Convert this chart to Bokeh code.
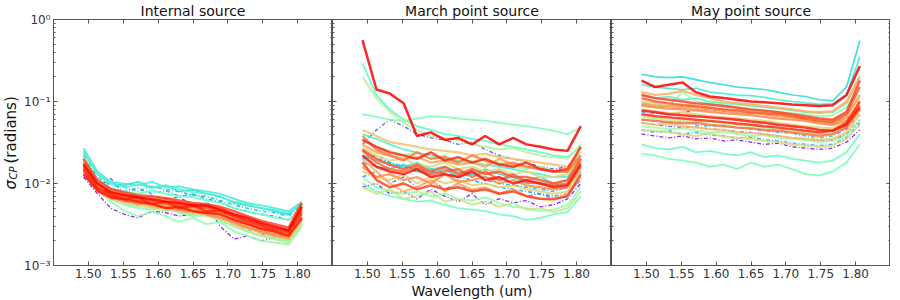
import math
from bokeh.plotting import figure
from bokeh.layouts import row
from bokeh.models import (LogAxis, LinearAxis, FixedTicker, PrintfTickFormatter,
                          CustomJSTickFormatter, Label, Range1d)
from bokeh.embed import file_html
from bokeh.resources import INLINE

# ---------------- data (sigma_CP in milliradians) ----------------
wavelength_um = [1.493, 1.513, 1.532, 1.552, 1.571, 1.591, 1.611, 1.630, 1.650,
                 1.669, 1.689, 1.709, 1.728, 1.748, 1.767, 1.787, 1.806]
panel_titles = ["Internal source", "March point source", "May point source"]
x_tick_values = [1.50, 1.55, 1.60, 1.65, 1.70, 1.75, 1.80]
y_tick_values = [0.001, 0.01, 0.1, 1.0]

# Internal source
int_00 = [12, 7.5, 5.0, 4.2, 3.8, 4.6, 4.4, 4.0, 4.2, 5.5, 3.0, 2.1, 2.3, 2.0, 2.2, 2.4, 3.5]
int_01 = [14, 9.0, 11.5, 7.5, 6.5, 7.0, 6.5, 6.8, 5.5, 5.8, 4.8, 3.6, 3.2, 2.4, 2.3, 2.6, 4.0]
int_02 = [16, 9.5, 7.0, 6.0, 6.8, 5.8, 6.2, 5.0, 5.4, 4.6, 4.2, 3.4, 2.6, 2.8, 2.2, 2.5, 3.8]
int_03 = [20, 11, 8.5, 8.0, 8.8, 7.5, 8.2, 7.0, 7.4, 6.5, 6.0, 5.0, 4.6, 4.2, 4.0, 3.6, 5.2]
int_04 = [22, 12, 9.5, 9.0, 8.0, 9.2, 8.5, 8.0, 7.2, 7.0, 6.2, 5.5, 5.0, 4.6, 4.4, 4.0, 5.5]
int_05 = [24, 13, 10, 9.5, 10.5, 9.0, 9.5, 8.0, 8.4, 7.5, 7.0, 5.8, 5.4, 5.0, 4.6, 4.2, 5.8]
int_06 = [27, 14, 10.5, 10, 9.5, 10.5, 9.0, 9.2, 8.5, 8.0, 7.5, 6.5, 5.8, 5.4, 5.0, 4.6, 6.0]
int_07 = [25, 13, 10, 9.0, 9.8, 8.8, 9.5, 8.6, 7.8, 7.6, 6.8, 6.0, 5.6, 5.0, 4.8, 4.4, 5.6]
int_08 = [21, 11, 8.8, 8.0, 7.5, 8.2, 7.5, 7.0, 6.8, 6.2, 5.8, 5.0, 4.5, 4.2, 3.8, 3.6, 5.0]
int_09 = [18, 9.0, 6.5, 5.5, 5.0, 4.8, 5.2, 4.4, 4.0, 4.2, 3.6, 3.0, 2.6, 2.3, 2.1, 2.0, 3.2]
int_10 = [17, 8.5, 6.0, 4.6, 4.0, 4.5, 4.0, 3.4, 3.8, 3.2, 3.4, 2.6, 2.3, 2.0, 1.9, 1.8, 3.0]
int_11 = [19, 9.5, 6.8, 5.8, 5.2, 5.5, 4.8, 4.6, 4.2, 4.4, 3.8, 3.2, 2.8, 2.5, 2.2, 2.1, 3.4]
int_12 = [20, 10, 7.2, 6.2, 6.0, 5.4, 5.6, 5.0, 4.8, 4.4, 4.2, 3.4, 3.1, 2.7, 2.5, 2.3, 3.8]
int_13 = [18, 9.0, 6.5, 5.6, 5.4, 5.0, 4.6, 4.8, 4.2, 4.0, 3.6, 3.0, 2.6, 2.3, 2.1, 1.9, 3.2]
int_14 = [21, 10.5, 7.8, 7.0, 6.4, 6.8, 5.8, 5.6, 5.2, 5.4, 4.6, 3.8, 3.4, 3.0, 2.7, 2.5, 4.2]
int_15 = [16, 9.0, 7.0, 6.5, 6.0, 5.6, 5.2, 5.6, 4.8, 4.6, 4.2, 3.7, 3.1, 2.8, 2.6, 2.4, 3.6]
int_16 = [19, 10, 8.0, 7.2, 6.6, 6.0, 6.4, 5.4, 5.6, 5.0, 4.8, 4.0, 3.4, 3.0, 2.7, 2.5, 4.6]
int_17 = [15, 8.5, 7.0, 6.0, 5.8, 5.2, 5.0, 4.6, 4.4, 4.6, 4.0, 3.2, 2.9, 2.5, 2.3, 2.1, 3.6]
int_18 = [17, 9.5, 7.6, 7.0, 6.6, 6.2, 5.8, 5.2, 5.0, 4.6, 4.4, 3.6, 3.2, 2.8, 2.6, 2.4, 5.0]
int_19 = [14, 8.0, 6.6, 6.2, 5.6, 5.8, 5.2, 4.8, 4.6, 4.2, 3.8, 3.4, 2.9, 2.6, 2.4, 2.2, 4.2]
int_20 = [18, 10, 8.2, 7.4, 7.0, 6.4, 6.6, 5.8, 5.6, 5.2, 5.0, 4.2, 3.6, 3.2, 2.9, 2.7, 5.6]
int_21 = [16, 9.0, 7.2, 6.8, 6.2, 6.0, 5.6, 5.4, 5.2, 5.0, 4.6, 3.9, 3.4, 3.0, 2.7, 2.5, 4.8]
int_22 = [20, 11, 8.6, 7.8, 7.2, 7.0, 6.6, 6.2, 5.8, 5.6, 5.2, 4.6, 4.0, 3.5, 3.2, 2.9, 5.8]
int_23 = [15, 8.8, 7.4, 6.4, 6.8, 5.6, 6.0, 5.0, 5.4, 4.6, 4.6, 4.0, 3.5, 3.1, 2.8, 2.6, 4.4]
int_24 = [13, 8.2, 6.8, 6.4, 6.0, 5.6, 5.0, 5.2, 4.6, 4.4, 4.2, 3.6, 3.2, 2.8, 2.6, 2.3, 3.8]
int_25 = [17, 10, 7.8, 7.2, 6.8, 6.4, 6.0, 5.8, 5.4, 5.4, 4.8, 4.2, 3.8, 3.3, 3.0, 2.7, 5.2]

# March point source
mar_00 = [9, 10, 7.5, 8, 6.5, 8.5, 7, 6, 7.5, 5.5, 6.5, 5.8, 6.2, 5.2, 5.5, 6.5, 10]
mar_01 = [30, 45, 60, 50, 40, 36, 34, 30, 32, 26, 22, 20, 18, 16, 15, 16, 22]
mar_02 = [12, 14, 10, 12, 9, 11, 8.5, 10, 8, 9, 7.5, 8.5, 7, 7.5, 6.5, 7, 12]
mar_03 = [20, 22, 18, 16, 15, 14, 13, 12, 11, 10, 9, 8.5, 8, 7.5, 7, 7.5, 11]
mar_04 = [25, 20, 18, 16, 14, 15, 13, 12, 14, 11, 10, 9.5, 9, 8.5, 8, 9, 14]
mar_05 = [18, 16, 15, 17, 14, 13, 15, 12, 13, 12, 11, 12, 10, 10, 9.5, 10, 16]
mar_06 = [22, 19, 17, 16, 18, 15, 16, 14, 13, 15, 13, 12, 11, 12, 10, 11, 18]
mar_07 = [40, 35, 30, 26, 24, 22, 20, 19, 18, 17, 16, 15, 14, 13, 12, 12, 20]
mar_08 = [290, 120, 80, 60, 50, 45, 40, 38, 35, 33, 30, 28, 26, 24, 22, 21, 28]
mar_09 = [10, 8, 7, 6.5, 6, 6.2, 5.5, 5.0, 4.8, 4.6, 4.2, 4.0, 3.6, 3.8, 4.2, 4.5, 7]
mar_10 = [70, 65, 60, 58, 62, 66, 65, 62, 60, 58, 55, 52, 50, 47, 44, 40, 48]
mar_11 = [12, 9, 8, 7.5, 8, 7, 7.5, 6.5, 6.2, 6.8, 5.8, 5.2, 5.0, 4.6, 4.8, 5.5, 9]
mar_12 = [35, 28, 25, 22, 24, 20, 22, 18, 19, 17, 18, 16, 15, 16, 14, 14, 22]
mar_13 = [200, 110, 75, 55, 45, 38, 36, 34, 30, 28, 26, 27, 24, 22, 21, 20, 30]
mar_14 = [9, 7.5, 8.5, 6.5, 7, 8, 6, 6.5, 5.5, 6, 5.2, 5.8, 4.8, 5, 4.5, 5, 8]
mar_15 = [28, 22, 19, 20, 17, 16, 18, 15, 16, 14, 15, 13, 14, 12, 12, 13, 20]
mar_16 = [14, 12, 11, 13, 10, 12, 10, 11, 9.5, 10, 9, 9.5, 8.5, 8, 7.5, 8, 15]
mar_17 = [45, 38, 32, 30, 28, 26, 25, 24, 22, 23, 21, 20, 19, 18, 17, 16, 24]
mar_18 = [20, 14, 10, 8, 9, 11, 8, 10, 8.5, 9, 7.5, 8.5, 7.0, 6.5, 6.2, 7.5, 12]
mar_19 = [30, 24, 22, 20, 21, 18, 19, 17, 18, 16, 20, 17, 16, 15, 14, 14, 20]
mar_20 = [16, 12, 13, 11, 12, 10, 13, 10.5, 11, 12, 10, 11, 9.5, 9, 8.5, 9, 16]
mar_21 = [38, 26, 22, 19, 24, 20, 21, 18, 22, 19, 17, 18, 16, 15, 14, 14, 22]
mar_22 = [25, 18, 15, 14, 16, 13, 14, 15, 12, 14, 11, 13, 10.5, 10, 9.5, 10, 18]
mar_23 = [26, 20, 17, 15, 17, 14, 16, 13, 15, 13, 14, 12, 12, 11, 10, 11, 20]
mar_24 = [18, 11, 9, 10, 8.5, 9.5, 8.5, 9, 8, 8.5, 7.5, 8, 7, 6.5, 6.5, 7, 13]
mar_25 = [34, 28, 24, 22, 20, 24, 19, 21, 18, 20, 17, 16, 18, 15, 14, 15, 28]
mar_26 = [22, 16, 14, 13, 15, 12, 13, 12, 14, 11, 12, 10, 11, 10, 9, 9.5, 17]
mar_27 = [560, 140, 125, 95, 38, 42, 34, 36, 30, 38, 30, 36, 30, 28, 26, 25, 50]

# May point source
may_00 = [40, 38, 36, 38, 35, 36, 33, 34, 32, 30, 31, 28, 27, 26, 27, 32, 45]
may_01 = [55, 52, 50, 48, 49, 46, 45, 43, 42, 40, 38, 36, 35, 33, 34, 40, 60]
may_02 = [75, 72, 70, 74, 78, 80, 76, 74, 72, 70, 68, 66, 62, 58, 56, 62, 80]
may_03 = [45, 42, 44, 40, 42, 39, 38, 36, 37, 34, 33, 31, 30, 29, 30, 36, 55]
may_04 = [60, 58, 55, 57, 52, 50, 51, 48, 46, 44, 42, 41, 38, 36, 38, 46, 70]
may_05 = [215, 200, 195, 200, 185, 170, 160, 150, 145, 140, 130, 120, 115, 105, 102, 150, 550]
may_06 = [160, 150, 145, 140, 145, 130, 125, 120, 118, 112, 105, 100, 96, 92, 94, 120, 350]
may_07 = [120, 110, 115, 105, 110, 100, 95, 92, 88, 85, 82, 78, 74, 72, 74, 95, 200]
may_08 = [30, 27, 26, 28, 24, 25, 23, 22, 24, 21, 22, 20, 19, 18, 19, 24, 40]
may_09 = [23, 22, 20, 19, 18, 16, 17, 15, 18, 16, 17, 15, 13, 12.5, 14, 18, 30]
may_10 = [90, 85, 88, 130, 100, 95, 90, 85, 80, 78, 75, 72, 70, 66, 68, 85, 150]
may_11 = [50, 48, 46, 47, 44, 42, 43, 40, 38, 39, 36, 35, 34, 32, 33, 38, 60]
may_12 = [65, 62, 60, 58, 56, 57, 54, 52, 50, 48, 47, 45, 42, 40, 41, 50, 80]
may_13 = [100, 95, 90, 92, 88, 84, 80, 78, 75, 72, 70, 66, 62, 60, 58, 70, 110]
may_14 = [45, 44, 42, 40, 38, 41, 37, 36, 35, 33, 32, 30, 29, 28, 29, 35, 52]
may_15 = [80, 76, 72, 74, 70, 66, 64, 62, 60, 58, 55, 52, 50, 48, 47, 55, 90]
may_16 = [55, 52, 54, 50, 48, 46, 45, 42, 41, 40, 38, 36, 35, 34, 35, 42, 70]
may_17 = [130, 120, 125, 135, 120, 110, 100, 95, 92, 88, 84, 80, 76, 74, 76, 100, 200]
may_18 = [95, 90, 88, 85, 84, 80, 78, 74, 72, 70, 66, 64, 60, 56, 54, 64, 120]
may_19 = [90, 85, 82, 80, 78, 75, 72, 70, 68, 65, 62, 60, 58, 54, 52, 58, 90]
may_20 = [60, 58, 56, 54, 55, 52, 50, 48, 47, 45, 44, 42, 40, 38, 40, 48, 80]
may_21 = [110, 100, 95, 90, 88, 84, 80, 78, 74, 72, 70, 66, 62, 58, 56, 70, 150]
may_22 = [120, 110, 105, 100, 95, 92, 88, 84, 80, 77, 74, 70, 66, 62, 60, 75, 180]
may_23 = [70, 66, 64, 62, 60, 58, 56, 54, 52, 50, 48, 46, 44, 42, 44, 55, 100]
may_24 = [78, 74, 70, 68, 66, 64, 62, 60, 57, 55, 52, 50, 48, 45, 44, 52, 85]
may_25 = [180, 150, 160, 170, 130, 115, 110, 105, 100, 98, 95, 92, 90, 88, 90, 120, 270]

internal_series = [int_00, int_01, int_02, int_03, int_04, int_05, int_06, int_07, int_08,
                   int_09, int_10, int_11, int_12, int_13, int_14, int_15, int_16, int_17,
                   int_18, int_19, int_20, int_21, int_22, int_23, int_24, int_25]
march_series = [mar_00, mar_01, mar_02, mar_03, mar_04, mar_05, mar_06, mar_07, mar_08, mar_09,
                mar_10, mar_11, mar_12, mar_13, mar_14, mar_15, mar_16, mar_17, mar_18, mar_19,
                mar_20, mar_21, mar_22, mar_23, mar_24, mar_25, mar_26, mar_27]
may_series = [may_00, may_01, may_02, may_03, may_04, may_05, may_06, may_07, may_08,
              may_09, may_10, may_11, may_12, may_13, may_14, may_15, may_16, may_17,
              may_18, may_19, may_20, may_21, may_22, may_23, may_24, may_25]

# ---------------- styling ----------------
FONT = "DejaVu Sans"
AXIS_COLOR = "#555555"
TEXT_COLOR = "#333333"
FRAME_H = 246
FRAME_W = 279
BOTTOM = 37
YLAB_W = 21


def rainbow(f):
    r = min(1.0, max(0.0, abs(2 * f - 0.5)))
    g = min(1.0, max(0.0, math.sin(math.pi * f)))
    b = min(1.0, max(0.0, math.cos(math.pi * f / 2)))
    return "#%02x%02x%02x" % (int(r * 255), int(g * 255), int(b * 255))


def style_axis(ax, show_labels):
    ax.major_tick_in = 4
    ax.major_tick_out = 0
    ax.minor_tick_in = 2
    ax.minor_tick_out = 0
    ax.axis_line_color = AXIS_COLOR
    ax.major_tick_line_color = AXIS_COLOR
    ax.minor_tick_line_color = AXIS_COLOR
    ax.major_label_text_font = FONT
    ax.major_label_text_color = TEXT_COLOR
    ax.major_label_text_font_size = "12px"
    if not show_labels:
        ax.formatter = CustomJSTickFormatter(code="return '';")
        ax.major_label_text_font_size = "0px"
        ax.major_label_standoff = 0


def style_title(p, text):
    p.title.text = text
    p.title.align = "center"
    p.title.text_font = FONT
    p.title.text_font_size = "14px"
    p.title.text_font_style = "normal"
    p.title.text_color = "#111111"
    p.title.standoff = 1


y_minor = [m * 10.0 ** k for k in (-3, -2, -1) for m in range(2, 10)]
y_fmt_code = """
const e = Math.round(Math.log10(tick));
const m = {"-": "\u207b", "0": "\u2070", "1": "\u00b9", "2": "\u00b2", "3": "\u00b3"};
let s = "";
for (const c of String(e)) { s += m[c]; }
return "10" + s;
"""


def make_panel(title, series, first, xlabel):
    p = figure(frame_width=FRAME_W, frame_height=FRAME_H,
               x_range=Range1d(1.45, 1.85), y_range=Range1d(1e-3, 1.0),
               y_axis_type="log", y_axis_location="left" if first else None,
               output_backend="svg", toolbar_location=None,
               min_border_left=26 if first else 0, min_border_right=0,
               min_border_top=0, min_border_bottom=BOTTOM)
    style_title(p, title)
    p.grid.visible = False
    p.outline_line_color = AXIS_COLOR
    p.background_fill_color = "white"
    p.border_fill_color = "white"

    xt = FixedTicker(ticks=x_tick_values, minor_ticks=[])
    yt = FixedTicker(ticks=y_tick_values, minor_ticks=y_minor)

    bx = p.xaxis[0]
    bx.ticker = xt
    bx.formatter = PrintfTickFormatter(format="%.2f")
    style_axis(bx, True)
    bx.major_label_standoff = 3
    if xlabel:
        bx.axis_label = xlabel
        bx.axis_label_text_font = FONT
        bx.axis_label_text_font_size = "14px"
        bx.axis_label_text_font_style = "normal"
        bx.axis_label_text_color = "#111111"
        bx.axis_label_standoff = 2

    if first:
        ly = p.yaxis[0]
        ly.ticker = yt
        style_axis(ly, True)
        ly.formatter = CustomJSTickFormatter(code=y_fmt_code)
        ly.major_label_standoff = 3
    else:
        ly = LogAxis(ticker=yt)
        style_axis(ly, False)
        p.add_layout(ly, "left")

    ty = LogAxis(ticker=FixedTicker(ticks=y_tick_values, minor_ticks=y_minor))
    style_axis(ty, False)
    p.add_layout(ty, "right")
    tx = LinearAxis(ticker=FixedTicker(ticks=x_tick_values, minor_ticks=[]))
    style_axis(tx, False)
    p.add_layout(tx, "above")

    n = len(series)
    for i, vals in enumerate(series):
        f = (i / (n - 1)) ** 0.7
        ys = [v * 1e-3 for v in vals]
        p.line(wavelength_um, ys, line_color=rainbow(f), line_alpha=0.85,
               line_width=1.3 + 1.2 * f,
               line_dash="4 2 1 2" if f < 0.3 else "solid")
    return p


# narrow strip carrying the y-axis title sigma_CP (radians)
ylab = figure(frame_width=YLAB_W, frame_height=FRAME_H, x_range=Range1d(0, YLAB_W),
              y_range=Range1d(0, FRAME_H), x_axis_location=None, y_axis_location=None,
              output_backend="svg", toolbar_location=None,
              min_border_left=0, min_border_right=0, min_border_top=0,
              min_border_bottom=BOTTOM)
style_title(ylab, " ")
ylab.grid.visible = False
ylab.outline_line_color = None
lab_kw = dict(x_units="data", y_units="data", angle=math.pi / 2,
              text_font=FONT, text_color="#111111", text_align="left",
              text_baseline="middle")
ylab.add_layout(Label(x=10, y=76, text="σ", text_font_size="15px",
                      text_font_style="italic", **lab_kw))
ylab.add_layout(Label(x=13, y=86, text="CP", text_font_size="10px",
                      text_font_style="italic", **lab_kw))
ylab.add_layout(Label(x=10, y=102, text="(radians)", text_font_size="15px", **lab_kw))

p1 = make_panel(panel_titles[0], internal_series, True, None)
p2 = make_panel(panel_titles[1], march_series, False, "Wavelength (um)")
p3 = make_panel(panel_titles[2], may_series, False, None)

layout = row(ylab, p1, p2, p3)
open("out.html", "w").write(file_html(layout, INLINE, title="sigma CP"))
